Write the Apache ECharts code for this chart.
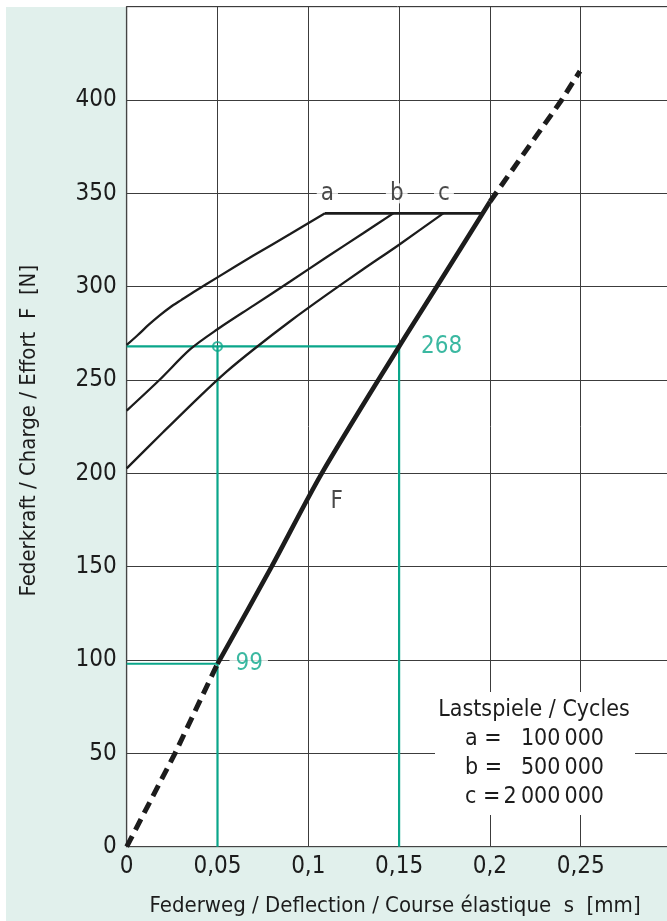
<!DOCTYPE html>
<html>
<head>
<meta charset="utf-8">
<script src="https://cdn.jsdelivr.net/npm/echarts@6/dist/echarts.min.js"></script>
<style>
html,body{margin:0;padding:0;background:#fff;}
#chart{width:667px;height:921px;}
</style>
</head>
<body>
<div id="chart"></div>
<script>
// ---- data ----
var xTicks = [0, 0.05, 0.1, 0.15, 0.2, 0.25];
var xTickLabels = ['0', '0,05', '0,1', '0,15', '0,2', '0,25'];
var yTicks = [0, 50, 100, 150, 200, 250, 300, 350, 400];
var yTickLabels = ['0', '50', '100', '150', '200', '250', '300', '350', '400'];

// spring characteristic F (deflection s [mm] -> force [N])
var fLowS = [0, 0.0266, 0.05];
var fLowF = [0, 50, 98];
var fMidS = [0.05, 0.0798, 0.1074, 0.15, 0.1707, 0.2];
var fMidF = [98, 150, 200, 268, 300, 345.5];
var fHighS = [0.2, 0.2395, 0.2496];
var fHighF = [345.5, 400, 415.5];

// fatigue curves a, b, c
var aS = [0, 0.006, 0.012, 0.018, 0.024, 0.03, 0.038, 0.05, 0.07, 0.09, 0.1092];
var aF = [268.8, 274, 279.5, 284.5, 289, 292.8, 297.8, 305, 316.8, 328.2, 339.3];
var bS = [0, 0.018, 0.035, 0.05, 0.07, 0.09, 0.11, 0.13, 0.1468];
var bF = [233.6, 250, 266.5, 277.2, 290, 302.8, 315.8, 328.5, 339.3];
var cS = [0, 0.02, 0.04, 0.055, 0.07, 0.09, 0.11, 0.13, 0.15, 0.1743];
var cF = [202.7, 222, 241, 254.5, 266.5, 281.5, 295.6, 309.2, 322.5, 339.3];
var plateauS = [0.1092, 0.1955];
var plateauF = [339.3, 339.3];

// curve labels
var curveNames = ['a', 'b', 'c'];
var curveLabelS = [0.1105, 0.1487, 0.1747];
var curveLabelF = [350, 350, 350];
var fLabel = ['F', 0.1157, 185];

// reference readings (green)
var refS = [0.05, 0.15];
var refF = [98, 268];
var refLabels = ['99', '268'];

var legendTitle = 'Lastspiele / Cycles';
var legendKeys = ['a =', 'b =', 'c ='];
var legendValues = ['100\u2009000', '500\u2009000', '2\u2009000\u2009000'];

// ---- chart ----
var FONT = "'Liberation Sans Narrow', 'DejaVu Sans Condensed', sans-serif";
var GREEN = '#0aa68a';
var INK = '#1c1c1c';

function zip(xs, ys) { return xs.map(function (x, i) { return [x, ys[i]]; }); }

var chart = echarts.init(document.getElementById('chart'), null, { renderer: 'canvas' });

var legendGraphics = [
  { type: 'rect', left: 0, top: 0, shape: { width: 667, height: 7 }, style: { fill: '#fff' }, silent: true },
  { type: 'rect', left: 0, top: 0, shape: { width: 6, height: 921 }, style: { fill: '#fff' }, silent: true },
  { type: 'rect', shape: { x: 435, y: 692, width: 200, height: 123 }, style: { fill: '#fff' }, z: 50, silent: true },
  { type: 'text', x: 534, y: 710, z: 51, style: { text: legendTitle, font: '23px ' + FONT, fill: INK, align: 'center', verticalAlign: 'middle' } }
];
var rowY = [739.3, 768.3, 796.7];
legendKeys.forEach(function (k, i) {
  legendGraphics.push({ type: 'text', x: 465, y: rowY[i], z: 51, style: { text: k, font: '23px ' + FONT, fill: INK, align: 'left', verticalAlign: 'middle' } });
  legendGraphics.push({ type: 'text', x: 604, y: rowY[i], z: 51, style: { text: legendValues[i], font: '23px ' + FONT, fill: INK, align: 'right', verticalAlign: 'middle' } });
});

var blackLine = function (name, data, width, type, smooth) {
  return {
    name: name, type: 'line', data: data, symbol: 'none', smooth: smooth || false, z: 5,
    lineStyle: { color: INK, width: width, type: type || 'solid', cap: 'butt' },
    silent: true, animation: false
  };
};

var option = {
  backgroundColor: '#e1f0ec',
  animation: false,
  textStyle: { fontFamily: FONT },
  grid: {
    left: 126.7, top: 6.7, width: 544.8, height: 840,
    outerBoundsMode: 'none', containLabel: false,
    show: true, backgroundColor: '#fff', borderColor: '#444', borderWidth: 1
  },
  xAxis: {
    type: 'value', min: 0, max: 0.3, interval: 0.05,
    axisLine: { show: true, lineStyle: { color: '#444', width: 1.2 } },
    axisTick: { show: false },
    splitLine: { show: true, lineStyle: { color: '#3c3c3c', width: 1 } },
    axisLabel: {
      color: INK, fontSize: 24, fontFamily: FONT, margin: 8,
      formatter: function (v) {
        for (var i = 0; i < xTicks.length; i++) if (Math.abs(xTicks[i] - v) < 1e-9) return xTickLabels[i];
        return '';
      }
    },
    name: 'Federweg / Deflection / Course élastique  s  [mm]',
    nameLocation: 'middle', nameGap: 49,
    nameTextStyle: { color: INK, fontSize: 22, fontFamily: FONT, padding: [0, 8, 0, 0] }
  },
  yAxis: {
    type: 'value', min: 0, max: 450, interval: 50,
    axisLine: { show: true, lineStyle: { color: '#444', width: 1.2 } },
    axisTick: { show: false },
    splitLine: { show: true, lineStyle: { color: '#3c3c3c', width: 1 } },
    axisLabel: {
      color: INK, fontSize: 24, fontFamily: FONT, margin: 10,
      formatter: function (v) {
        var i = yTicks.indexOf(v);
        return i >= 0 ? yTickLabels[i] : '';
      }
    },
    name: 'Federkraft / Charge / Effort  F  [N]',
    nameLocation: 'middle', nameGap: 86,
    nameTextStyle: { color: INK, fontSize: 22, fontFamily: FONT, padding: [0, 8, 0, 0] }
  },
  graphic: legendGraphics,
  series: [
    // green reference lines
    { type: 'line', symbol: 'none', z: 3, silent: true,
      data: [[0, refF[1]], [refS[1], refF[1]], [refS[1], 0]],
      lineStyle: { color: GREEN, width: 2.2 } },
    { type: 'line', symbol: 'none', z: 3, silent: true,
      data: [[refS[0], refF[1]], [refS[0], 0]],
      lineStyle: { color: GREEN, width: 2.2 } },
    { type: 'line', symbol: 'none', z: 3, silent: true,
      data: [[0, refF[0]], [refS[0], refF[0]]],
      lineStyle: { color: GREEN, width: 2.2 } },
    // fatigue curves
    blackLine('a', zip(aS, aF), 2.3, 'solid', 0.3),
    blackLine('b', zip(bS, bF), 2.3, 'solid', 0.3),
    blackLine('c', zip(cS, cF), 2.3, 'solid', 0.3),
    blackLine('plateau', zip(plateauS, plateauF), 2.6),
    // characteristic F
    blackLine('F low', zip(fLowS, fLowF), 5, [12, 7]),
    blackLine('F', zip(fMidS, fMidF), 4.6, 'solid', 0.3),
    blackLine('F high', zip(fHighS, fHighF), 5, [12, 7]),
    // green marker circle
    { type: 'scatter', z: 8, silent: true, symbol: 'circle', symbolSize: 9,
      data: [[refS[0], refF[1]]],
      itemStyle: { color: 'rgba(255,255,255,0)', borderColor: GREEN, borderWidth: 2 } },
    // green value labels
    { type: 'scatter', z: 9, silent: true, symbolSize: 0,
      data: [[refS[0], refF[0], refLabels[0]]],
      label: { show: true, position: 'right', distance: 12, formatter: function (p) { return p.value[2]; },
        color: GREEN, fontSize: 24, fontFamily: FONT, backgroundColor: '#fff', padding: [0, 5, 0, 6] } },
    { type: 'scatter', z: 9, silent: true, symbolSize: 0,
      data: [[refS[1], refF[1], refLabels[1]]],
      label: { show: true, position: 'right', distance: 22, formatter: function (p) { return p.value[2]; },
        color: GREEN, fontSize: 24, fontFamily: FONT } },
    // curve labels a, b, c
    { type: 'scatter', z: 9, silent: true, symbolSize: 0,
      data: curveNames.map(function (n, i) { return [curveLabelS[i], curveLabelF[i], n]; }),
      label: { show: true, position: 'inside', formatter: function (p) { return p.value[2]; },
        color: INK, fontSize: 24, fontFamily: FONT, backgroundColor: '#fff', padding: [0, 4, 0, 4], lineHeight: 20 } },
    // label F
    { type: 'scatter', z: 9, silent: true, symbolSize: 0,
      data: [[fLabel[1], fLabel[2], fLabel[0]]],
      label: { show: true, position: 'inside', formatter: function (p) { return p.value[2]; },
        color: INK, fontSize: 24, fontFamily: FONT } }
  ]
};
chart.setOption(option);
</script>
</body>
</html>
